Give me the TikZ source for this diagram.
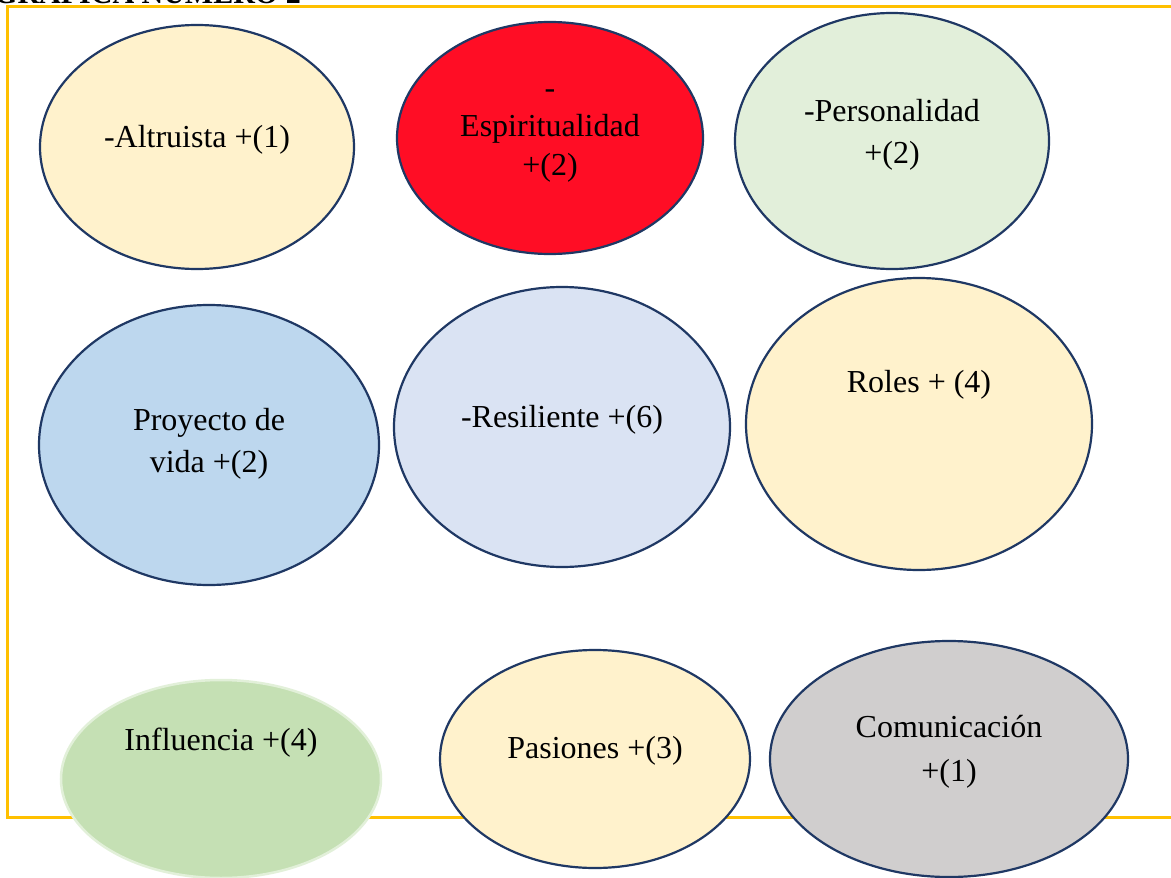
\documentclass[tikz,border=0pt]{standalone}
\usepackage{fontspec}
\setmainfont{Liberation Serif}
\usetikzlibrary{shapes.geometric}
\definecolor{frameyellow}{HTML}{FFC000}
\definecolor{navyedge}{HTML}{1F3864}
\definecolor{creamfill}{HTML}{FFF2CC}
\definecolor{redfill}{HTML}{FF0D25}
\definecolor{mintfill}{HTML}{E2EFDA}
\definecolor{bluefill}{HTML}{BDD7EE}
\definecolor{paleblue}{HTML}{DAE3F3}
\definecolor{greenfill}{HTML}{C5E0B4}
\definecolor{greenedge}{HTML}{E2F0D9}
\definecolor{greyfill}{HTML}{D0CECE}
\tikzset{
  bubble/.style={ellipse, draw=navyedge, line width=2.2pt, inner sep=0pt},
  % anchor=base sits on the baseline of the last line
  caption/.style={font=\fontsize{32}{41}\selectfont, align=center, text=black, inner sep=0pt, anchor=base},
}
\newcommand{\bub}[6]{% name, x, y, rx, ry, fill
  \node[bubble, fill=#6, minimum width=#4*2pt, minimum height=#5*2pt] (#1) at (#2,#3) {};}
\begin{document}
\begin{tikzpicture}[x=1pt,y=-1pt]
\useasboundingbox (0,0) rectangle (1171,878);
\clip (0,0) rectangle (1171,878);
\fill[white] (0,0) rectangle (1171,878);
% heading, mostly above the page edge
\node[font=\fontsize{30}{30}\selectfont\bfseries, anchor=base west, inner sep=0pt] (heading) at (-6,4) {GRAFICA NUMERO 2};
% frame
\draw[frameyellow, line width=3pt] (1200,6) -- (7,6) -- (7,817) -- (1200,817);
% bubbles
\bub{altruista}{197}{147}{157}{122}{creamfill}
\bub{espiritualidad}{550}{138}{153}{116}{redfill}
\bub{personalidad}{892}{141}{157}{128}{mintfill}
\bub{proyecto}{209}{445}{170}{140}{bluefill}
\bub{resiliente}{562}{427}{168}{140}{paleblue}
\bub{roles}{919}{424}{173}{146}{creamfill}
\node[ellipse, fill=greenfill, draw=greenedge, line width=2.5pt, inner sep=0pt,
      minimum width=320pt, minimum height=198pt] (influencia) at (221,779) {};
\bub{pasiones}{595}{759}{155}{109}{creamfill}
\bub{comunicacion}{949}{759}{179}{118}{greyfill}
% captions
\node[caption] (tAltruista) at (197,147) {-Altruista +(1)};
\node[caption, font=\fontsize{32}{38.5}\selectfont] (tEsp) at (550,175) {-\\Espiritualidad\\+(2)};
\node[caption, font=\fontsize{32}{42}\selectfont] (tPers) at (892,163) {-Personalidad\\+(2)};
\node[caption, font=\fontsize{32}{42}\selectfont] (tProy) at (209,472) {Proyecto de\\vida +(2)};
\node[caption] (tRes) at (562,427) {-Resiliente +(6)};
\node[caption] (tRoles) at (919,392) {Roles + (4)};
\node[caption] (tInf) at (221,750) {Influencia +(4)};
\node[caption] (tPas) at (595,758) {Pasiones +(3)};
\node[caption, font=\fontsize{32}{44}\selectfont] (tCom) at (949,781) {Comunicación\\+(1)};
\end{tikzpicture}
\end{document}
